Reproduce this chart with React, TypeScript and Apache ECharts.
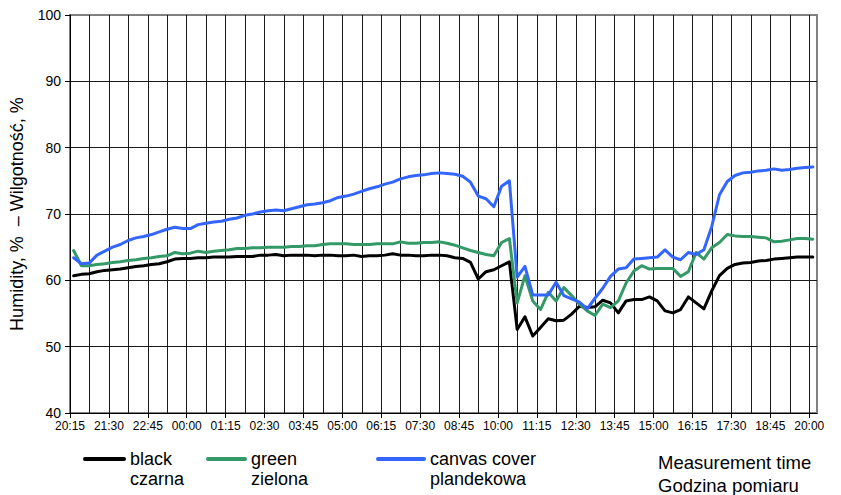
import React, { useEffect, useRef } from "react";
import * as echarts from "echarts";

// Measurement schedule: first reading at 20:22, then every 15 minutes (minutes after 20:15)
const FIRST_MINUTE = 7;
const STEP_MINUTES = 15;

const BLACK = [
  60.7, 60.9, 61.0, 61.3, 61.5, 61.6, 61.7, 61.9, 62.1, 62.2,
  62.4, 62.5, 62.8, 63.2, 63.3, 63.3, 63.4, 63.4, 63.5, 63.5,
  63.5, 63.6, 63.6, 63.6, 63.8, 63.8, 63.9, 63.7, 63.8, 63.8,
  63.8, 63.7, 63.8, 63.8, 63.7, 63.7, 63.8, 63.6, 63.7, 63.7,
  63.8, 64.0, 63.8, 63.8, 63.7, 63.7, 63.8, 63.8, 63.7, 63.4,
  63.3, 62.7, 60.2, 61.3, 61.6, 62.2, 62.8, 52.6, 54.5, 51.6,
  52.9, 54.2, 53.9, 54.0, 54.9, 56.1, 55.9, 56.0, 57.0, 56.6,
  55.1, 56.9, 57.1, 57.1, 57.5, 56.9, 55.4, 55.1, 55.6, 57.5,
  56.6, 55.7, 58.4, 60.7, 61.8, 62.4, 62.6, 62.7, 62.9, 63.0,
  63.2, 63.3, 63.4, 63.5, 63.5, 63.5,
];

const GREEN = [
  64.5, 62.2, 62.2, 62.4, 62.5, 62.7, 62.8, 63.0, 63.1, 63.3,
  63.4, 63.6, 63.7, 64.2, 64.0, 64.1, 64.4, 64.2, 64.4, 64.5,
  64.6, 64.8, 64.8, 64.9, 64.9, 65.0, 65.0, 65.0, 65.1, 65.1,
  65.2, 65.2, 65.4, 65.5, 65.5, 65.5, 65.4, 65.4, 65.4, 65.5,
  65.5, 65.5, 65.8, 65.6, 65.6, 65.7, 65.7, 65.8, 65.6, 65.3,
  64.9, 64.5, 64.2, 63.9, 63.7, 65.7, 66.3, 56.6, 60.7, 56.9,
  55.6, 58.2, 56.9, 58.9, 57.7, 56.4, 55.4, 54.7, 56.4, 55.9,
  56.9, 59.6, 61.4, 62.2, 61.7, 61.8, 61.8, 61.8, 60.6, 61.3,
  64.2, 63.2, 64.9, 65.7, 66.9, 66.7, 66.6, 66.6, 66.5, 66.4,
  65.8, 65.9, 66.1, 66.3, 66.3, 66.2,
];

const CANVAS = [
  63.4, 62.5, 62.6, 63.8, 64.4, 65.0, 65.4, 66.0, 66.4, 66.6,
  66.9, 67.3, 67.7, 68.0, 67.8, 67.8, 68.4, 68.6, 68.8, 68.9,
  69.2, 69.4, 69.8, 70.0, 70.3, 70.5, 70.6, 70.5, 70.8, 71.1,
  71.4, 71.5, 71.7, 72.0, 72.5, 72.7, 73.0, 73.4, 73.8, 74.1,
  74.5, 74.8, 75.3, 75.6, 75.8, 75.9, 76.1, 76.2, 76.1, 76.0,
  75.7, 74.8, 72.7, 72.3, 71.1, 74.2, 75.0, 60.5, 62.1, 57.8,
  57.8, 57.8, 59.7, 57.7, 57.2, 56.7, 55.7, 57.3, 58.8, 60.6,
  61.7, 61.9, 63.2, 63.3, 63.4, 63.5, 64.6, 63.5, 63.1, 64.2,
  63.9, 64.6, 68.1, 72.9, 74.9, 75.8, 76.2, 76.3, 76.5, 76.6,
  76.8, 76.6, 76.7, 76.9, 77.0, 77.1,
];

const SERIES_NAMES = ["black", "green", "canvas cover"];
const SERIES_NAMES_PL = ["czarna", "zielona", "plandekowa"];
const SERIES_COLORS = ["#000000", "#339966", "#3366ff"];

const Y_MIN = 40;
const Y_MAX = 100;
const Y_STEP = 10;
const X_MAX = 1440; // 24 h after 20:15
const X_LABEL_STEP = 75; // 1:15
const START_CLOCK = 20 * 60 + 15;

const Y_NAME = "Humidity, %  \u2013 Wilgotność, %";
const X_NAME = ["Measurement time", "Godzina pomiaru"];

const FONT = "'Liberation Sans', Arial, Helvetica, sans-serif";

function clock(v: number): string {
  const m = Math.round(START_CLOCK + v) % 1440;
  const h = Math.floor(m / 60);
  const mm = m % 60;
  return `${String(h).padStart(2, "0")}:${String(mm).padStart(2, "0")}`;
}

function toPairs(values: number[]): [number, number][] {
  return values.map((v, k) => [FIRST_MINUTE + STEP_MINUTES * k, v]);
}

export default function App() {
  const ref = useRef<HTMLDivElement>(null);

  useEffect(() => {
    if (!ref.current) return;
    const chart = echarts.init(ref.current, undefined, { renderer: "svg" });
    const allSeries = [BLACK, GREEN, CANVAS];

    const legendX = [85, 208, 378];
    const legendW = [39, 37, 46];
    const legendEls: any[] = [];
    SERIES_NAMES.forEach((n, i) => {
      legendEls.push({
        type: "line",
        shape: { x1: legendX[i], y1: 459, x2: legendX[i] + legendW[i], y2: 459 },
        style: { stroke: SERIES_COLORS[i], lineWidth: 4, lineCap: "round" },
      });
      legendEls.push({
        type: "text",
        x: legendX[i] + legendW[i] + 6,
        y: 459,
        style: { text: n, fontSize: 18, fontFamily: FONT, fill: "#000", verticalAlign: "middle" },
      });
      legendEls.push({
        type: "text",
        x: legendX[i] + legendW[i] + 6,
        y: 478.5,
        style: { text: SERIES_NAMES_PL[i], fontSize: 18, fontFamily: FONT, fill: "#000", verticalAlign: "middle" },
      });
    });
    legendEls.push({
      type: "text",
      x: 658,
      y: 462,
      style: { text: X_NAME[0], fontSize: 18.5, fontFamily: FONT, fill: "#000", verticalAlign: "middle" },
    });
    legendEls.push({
      type: "text",
      x: 658,
      y: 485.5,
      style: { text: X_NAME[1], fontSize: 18.5, fontFamily: FONT, fill: "#000", verticalAlign: "middle" },
    });

    chart.setOption({
      animation: false,
      backgroundColor: "#ffffff",
      grid: {
        left: 70,
        right: 24,
        top: 15,
        bottom: 82,
        show: true,
        borderColor: "#808080",
        borderWidth: 2,
        backgroundColor: "transparent",
      },
      xAxis: [
        {
          type: "value",
          min: 0,
          max: X_MAX,
          interval: X_LABEL_STEP / 2,
          position: "bottom",
          axisLine: { show: false, onZero: false },
          axisTick: { show: false },
          axisLabel: { show: false },
          splitLine: {
            show: true,
            showMinLine: false,
            showMaxLine: false,
            lineStyle: { color: "#1a1a1a", width: 1 },
          },
        },
        {
          type: "value",
          min: 0,
          max: X_MAX,
          interval: X_LABEL_STEP,
          position: "bottom",
          axisLine: { show: true, onZero: false, lineStyle: { color: "#000", width: 1 } },
          axisTick: { show: true, length: 5, lineStyle: { color: "#000" } },
          axisLabel: {
            show: true,
            formatter: (v: number) => clock(v),
            showMaxLabel: false,
            fontSize: 12,
            fontFamily: FONT,
            color: "#000",
            margin: 7,
          },
          splitLine: { show: false },
        },
      ],
      yAxis: {
        type: "value",
        min: Y_MIN,
        max: Y_MAX,
        interval: Y_STEP,
        name: Y_NAME,
        nameLocation: "middle",
        nameGap: 44,
        nameTextStyle: { fontSize: 18, fontFamily: FONT, color: "#000" },
        axisLine: { show: true, lineStyle: { color: "#000", width: 1 } },
        axisTick: { show: true, length: 5, lineStyle: { color: "#000" } },
        axisLabel: { fontSize: 14, fontFamily: FONT, color: "#000", margin: 9 },
        splitLine: {
          show: true,
          showMinLine: false,
          showMaxLine: false,
          lineStyle: { color: "#1a1a1a", width: 1 },
        },
      },
      series: allSeries.map((vals, i) => ({
        name: SERIES_NAMES[i],
        type: "line",
        xAxisIndex: 1,
        data: toPairs(vals),
        showSymbol: false,
        symbol: "none",
        lineStyle: { color: SERIES_COLORS[i], width: 3, join: "round", cap: "round" },
        itemStyle: { color: SERIES_COLORS[i] },
        z: 3 + i,
      })),
      graphic: { elements: legendEls },
    });

    return () => chart.dispose();
  }, []);

  return (
    <div
      ref={ref}
      style={{ position: "fixed", left: 0, top: 0, width: 841, height: 495, background: "#fff" }}
    />
  );
}
